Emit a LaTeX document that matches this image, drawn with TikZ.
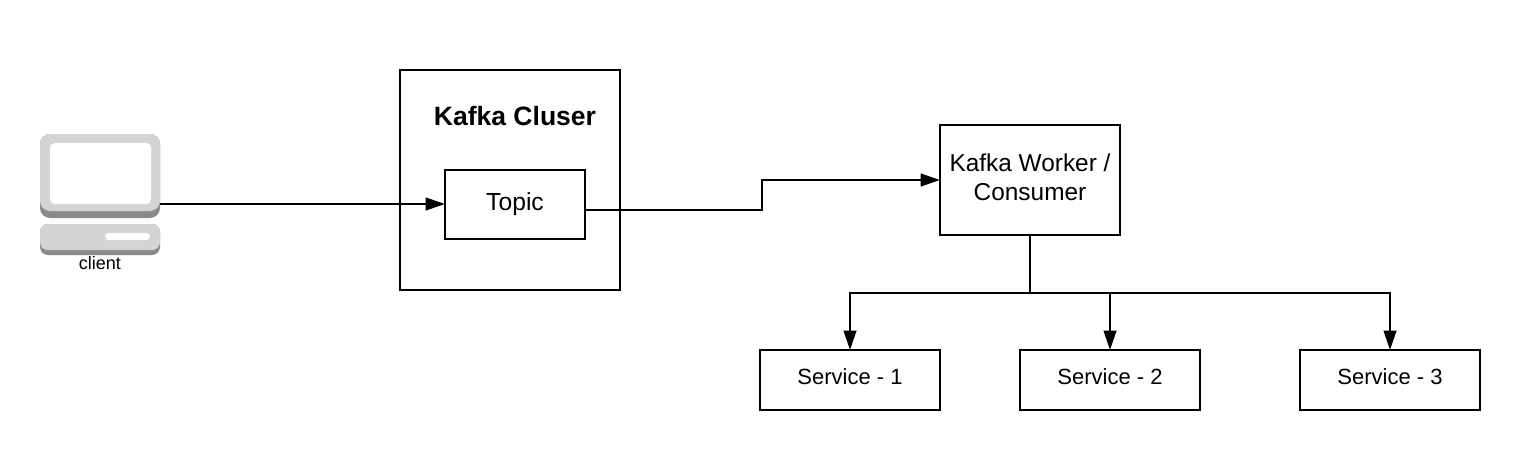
\documentclass[tikz,border=0pt]{standalone}
\usepackage{fontspec}
\setmainfont{Liberation Sans}
\usetikzlibrary{arrows.meta}
\definecolor{pclight}{HTML}{D3D4D4}
\definecolor{pcdark}{HTML}{8A8B8B}
\tikzset{
  boxstyle/.style={draw=black,line width=1.5pt,fill=white,inner sep=0pt,outer sep=0pt},
  conn/.style={draw=black,line width=1.5pt},
  arrowconn/.style={conn,-{Triangle[length=14.5pt,width=9.5pt]}},
  hidden/.style={inner sep=0pt,outer sep=0pt,align=center},
}
\begin{document}
\begin{tikzpicture}[x=0.75pt,y=-0.75pt]
\useasboundingbox (0,0) rectangle (1520,450);
\fill[white] (0,0) rectangle (1520,450);
% client computer
\fill[pcdark,rounded corners=7.5pt] (40,134) rectangle (160,218);
\fill[pclight,rounded corners=7.5pt] (40,134) rectangle (160,211);
\fill[white,rounded corners=3.5pt] (50,143) rectangle (151,204);
\fill[pcdark,rounded corners=6pt] (40,224) rectangle (160,255);
\fill[pclight,rounded corners=6pt] (40,224) rectangle (160,250);
\fill[white,rounded corners=2.6pt] (105,233) rectangle (150,240);
\node[hidden,minimum width=90pt,minimum height=63pt] (pc) at (100,176) {};
\node[hidden,font=\fontsize{13.5}{16}\selectfont] (clientlabel) at (100,263) {client};
% cluster
\node[boxstyle,minimum width=165pt,minimum height=165pt] (cluster) at (510,180) {};
\node[hidden,font=\bfseries\fontsize{19.9}{24}\selectfont] (clustertitle) at (515,116) {Kafka Cluser};
\node[boxstyle,minimum width=105pt,minimum height=52pt] (topic) at (515,204.5) {};
\node[hidden,font=\fontsize{18.5}{22}\selectfont] (topiclabel) at (515,204) {Topic};
% worker
\node[boxstyle,minimum width=135pt,minimum height=82.5pt] (worker) at (1030,180) {};
\node[hidden,font=\fontsize{18.3}{21.75}\selectfont] (workerlabel) at (1030,177) {Kafka Worker /\\Consumer};
% services
\node[boxstyle,minimum width=135pt,minimum height=45pt] (s1) at (850,380) {};
\node[boxstyle,minimum width=135pt,minimum height=45pt] (s2) at (1110,380) {};
\node[boxstyle,minimum width=135pt,minimum height=45pt] (s3) at (1390,380) {};
\node[hidden,font=\fontsize{16.5}{20}\selectfont] (s1l) at (850,377) {Service - 1};
\node[hidden,font=\fontsize{16.5}{20}\selectfont] (s2l) at (1110,377) {Service - 2};
\node[hidden,font=\fontsize{16.5}{20}\selectfont] (s3l) at (1390,377) {Service - 3};
% connectors
\coordinate (busy) at (1030,293);
\coordinate (iny) at (300,204);
\coordinate (outy) at (762,210);
\draw[arrowconn] (pc.east |- iny) -- (topic.west |- iny);
\draw[arrowconn] (topic.east |- outy) -- (outy) -- (762,180) -- (worker.west);
\draw[conn] (worker.south) -- (busy);
\draw[arrowconn] (busy) -| (s1.north);
\draw[arrowconn] (busy) -| (s2.north);
\draw[arrowconn] (busy) -| (s3.north);
\end{tikzpicture}
\end{document}
